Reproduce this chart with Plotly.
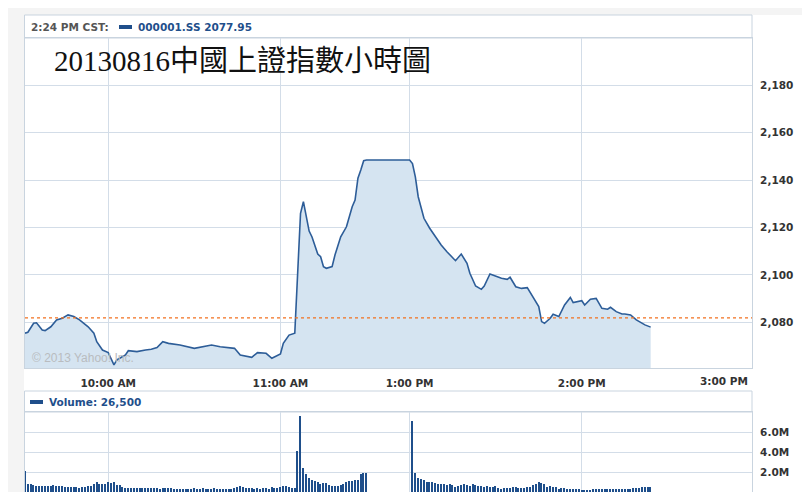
import plotly.graph_objects as go

# ---------------- data ----------------
PRICE_TIMES = [
    "09:31", "09:32", "09:34", "09:35", "09:37", "09:38", "09:40", "09:42", "09:44", "09:46",
    "09:48", "09:50", "09:53", "09:55", "09:56", "09:58", "10:00", "10:01", "10:02", "10:03",
    "10:06", "10:07", "10:10", "10:13", "10:15", "10:17", "10:19", "10:21", "10:25", "10:30",
    "10:32", "10:36", "10:39", "10:44", "10:46", "10:50", "10:52", "10:55", "10:57", "10:59",
    "11:00", "11:01", "11:03", "11:05", "11:06", "11:07", "11:08", "11:09", "11:10", "11:11",
    "11:12", "11:13", "11:14", "11:15", "11:16", "11:18", "11:19", "11:21", "11:23", "11:25",
    "11:26", "11:27", "11:28", "11:29", "11:30", "13:00", "13:01", "13:02", "13:03", "13:05",
    "13:07", "13:09", "13:11", "13:13", "13:15", "13:16", "13:18", "13:20", "13:21", "13:23",
    "13:25", "13:26", "13:28", "13:30", "13:32", "13:34", "13:35", "13:37", "13:39", "13:41",
    "13:43", "13:45", "13:46", "13:47", "13:49", "13:50", "13:52", "13:54", "13:56", "13:57",
    "14:00", "14:01", "14:03", "14:05", "14:07", "14:09", "14:10", "14:12", "14:14", "14:15",
    "14:17", "14:19", "14:22", "14:24",
]
PRICE_VALUES = [
    2075.4, 2075.8, 2079.6, 2079.8, 2076.7, 2076.5, 2078.1, 2081.0, 2081.7, 2083.1,
    2082.4, 2081.0, 2078.1, 2075.4, 2071.8, 2068.3, 2067.2, 2064.8, 2062.0, 2064.1,
    2066.2, 2068.0, 2067.6, 2068.3, 2068.6, 2069.3, 2071.8, 2071.1, 2070.4, 2069.0,
    2069.5, 2070.4, 2069.7, 2069.0, 2066.2, 2065.2, 2067.2, 2066.9, 2064.8, 2066.2,
    2066.6, 2071.1, 2074.6, 2075.4, 2100.7, 2126.0, 2130.9, 2124.6, 2118.5, 2116.0,
    2112.0, 2108.8, 2107.7, 2103.5, 2102.8, 2103.5, 2108.4, 2116.1, 2120.3, 2128.8,
    2131.6, 2140.8, 2144.3, 2148.2, 2148.5, 2148.5, 2147.0, 2141.4, 2133.0, 2123.9,
    2119.7, 2116.1, 2112.6, 2109.8, 2107.0, 2106.0, 2108.8, 2104.9, 2100.7, 2095.3,
    2093.9, 2095.3, 2100.4, 2099.5, 2098.6, 2098.1, 2099.0, 2095.0, 2094.3, 2094.6,
    2090.8, 2086.6, 2080.3, 2079.6, 2081.7, 2083.4, 2082.4, 2087.3, 2090.5, 2088.3,
    2089.1, 2087.3, 2089.7, 2090.1, 2085.9, 2085.5, 2086.3, 2084.5, 2083.5, 2083.5,
    2083.1, 2081.0, 2078.9, 2077.95,
]
PREV_CLOSE = 2081.84

# one-minute volume bars, in millions
VOL_AM_START = "09:31"
VOL_AM = [
    2.07, 0.83, 0.80, 0.70, 0.65, 0.65, 0.60, 0.65, 0.65, 0.60,
    0.68, 0.60, 0.57, 0.60, 0.55, 0.50, 0.55, 0.50, 0.48, 0.45,
    0.50, 0.55, 0.60, 0.62, 0.83, 1.00, 0.80, 0.80, 0.80, 0.97,
    0.90, 0.97, 0.75, 0.68, 0.48, 0.42, 0.45, 0.40, 0.38, 0.38,
    0.36, 0.38, 0.36, 0.38, 0.40, 0.38, 0.36, 0.35, 0.42, 0.40,
    0.36, 0.38, 0.35, 0.33, 0.35, 0.32, 0.35, 0.33, 0.35, 0.36,
    0.34, 0.35, 0.36, 0.33, 0.35, 0.34, 0.36, 0.33, 0.32, 0.34,
    0.33, 0.32, 0.35, 0.45, 0.55, 0.60, 0.50, 0.42, 0.38, 0.36,
    0.35, 0.36, 0.34, 0.36, 0.38, 0.35, 0.50, 0.45, 0.42, 0.55,
    0.60, 0.58, 0.50, 0.42, 0.38, 4.07, 7.60, 2.45, 1.76, 1.41,
    1.24, 1.14, 0.97, 0.83, 0.90, 0.95, 0.72, 0.62, 0.62, 0.62,
    0.70, 0.83, 0.97, 1.14, 1.07, 1.17, 1.24, 1.76, 1.93, 1.93,
]
VOL_PM_START = "13:01"
VOL_PM = [
    7.10, 1.86, 1.41, 1.31, 1.24, 1.03, 0.97, 1.00, 0.90, 0.76,
    0.76, 0.76, 0.69, 0.76, 0.69, 0.55, 0.62, 0.69, 0.76, 0.69,
    0.62, 0.76, 0.69, 0.62, 0.62, 0.55, 0.62, 0.55, 0.55, 0.62,
    0.38, 0.35, 0.38, 0.38, 0.41, 0.55, 0.48, 0.41, 0.41, 0.41,
    0.48, 0.55, 0.69, 0.83, 1.03, 0.90, 0.76, 0.55, 0.62, 0.55,
    0.48, 0.35, 0.38, 0.38, 0.35, 0.30, 0.28, 0.30, 0.28, 0.20,
    0.24, 0.20, 0.24, 0.28, 0.28, 0.30, 0.28, 0.28, 0.30, 0.30,
    0.28, 0.30, 0.28, 0.28, 0.30, 0.35, 0.35, 0.38, 0.41, 0.41,
    0.48, 0.55, 0.55, 0.48,
]

X_TICK_TIMES = ["10:00", "11:00", "13:00", "14:00"]
X_TICK_LABELS = ["10:00 AM", "11:00 AM", "1:00 PM", "2:00 PM"]
X_LAST_LABEL = "3:00 PM"
Y_TICKS = [2080, 2100, 2120, 2140, 2160, 2180]
Y_TICK_LABELS = ["2,080", "2,100", "2,120", "2,140", "2,160", "2,180"]
VOL_TICKS = [2, 4, 6, 8]
VOL_TICK_LABELS = ["2.0M", "4.0M", "6.0M", ""]

HEADER_TIME = "2:24 PM CST:"
HEADER_SYMBOL = "000001.SS 2077.95"
VOLUME_LABEL = "Volume: 26,500"
TITLE = "20130816中國上證指數小時圖"
WATERMARK = "© 2013 Yahoo! Inc."

# ---------------- helpers ----------------
LUNCH_GAP = 15  # compressed lunch break on the axis, minutes


def to_axis(t):
    h, m = map(int, t.split(":"))
    mins = h * 60 + m
    if mins <= 11 * 60 + 30:
        return mins - (9 * 60 + 30)
    return 120 + LUNCH_GAP + mins - 13 * 60


px = [to_axis(t) for t in PRICE_TIMES]
vx = [to_axis(VOL_AM_START) + i for i in range(len(VOL_AM))] + \
     [to_axis(VOL_PM_START) + i for i in range(len(VOL_PM))]
vv = VOL_AM + VOL_PM

# the page body has an 8px margin, so the figure sits at (8, 8)
OFF = 8
W, H = 810 - 2 * OFF, 500 - 2 * OFF
PLOT_L, PLOT_R = 25, 752          # page pixels of the plotting area
ML = PLOT_L - OFF
MR = W - (PLOT_R - OFF)
PW = PLOT_R - PLOT_L


def fx(p):  # page pixel -> paper x
    return (p - PLOT_L) / PW


def fy(p):  # page pixel -> paper y (clamped to the figure)
    return min(1.0, max(0.0, (H - (p - OFF)) / H))


X_RANGE = [1, 254.3]
BLUE = "#1f4f8b"
GRID = "#d3dde8"
BORDER = "#c9d4df"
FONT = "DejaVu Sans"

fig = go.Figure()
fig.add_trace(go.Scatter(
    x=px, y=PRICE_VALUES, mode="lines",
    line=dict(color="#2d5d98", width=1.6),
    fill="tozeroy", fillcolor="#d5e4f1",
    xaxis="x", yaxis="y", hoverinfo="skip"))
fig.add_trace(go.Bar(
    x=vx, y=vv, width=0.5,
    marker=dict(color=BLUE, line=dict(width=0)),
    xaxis="x2", yaxis="y2", hoverinfo="skip"))

tickfont = dict(family=FONT, size=10.5, color="#333333", weight="bold")
xtv = [to_axis(t) for t in X_TICK_TIMES]

fig.update_layout(
    width=W, height=H,
    margin=dict(l=ML, r=MR, t=0, b=0),
    paper_bgcolor="#f4f4f4", plot_bgcolor="white",
    showlegend=False, bargap=0,
    xaxis=dict(domain=[0, 1], anchor="y", range=X_RANGE,
               tickvals=xtv, ticktext=X_TICK_LABELS,
               showgrid=True, gridcolor=GRID, gridwidth=1,
               showline=True, linecolor=BORDER, mirror=True, zeroline=False,
               ticks="outside", ticklen=5, tickcolor="rgba(0,0,0,0)",
               tickfont=tickfont),
    yaxis=dict(domain=[fy(368), fy(38)], anchor="x", range=[2060.7, 2200],
               side="right", tickvals=Y_TICKS, ticktext=Y_TICK_LABELS,
               showgrid=True, gridcolor=GRID, gridwidth=1,
               showline=True, linecolor=BORDER, mirror=True, zeroline=False,
               ticks="outside", ticklen=5, tickcolor="rgba(0,0,0,0)",
               tickfont=tickfont),
    xaxis2=dict(domain=[0, 1], anchor="y2", range=X_RANGE,
                tickvals=xtv, showticklabels=False,
                showgrid=True, gridcolor=GRID, gridwidth=1,
                showline=True, linecolor=BORDER, mirror=True, zeroline=False),
    yaxis2=dict(domain=[fy(492), fy(412)], anchor="x2", range=[0, 8],
                side="right", tickvals=VOL_TICKS, ticktext=VOL_TICK_LABELS,
                showgrid=True, gridcolor=GRID, gridwidth=1,
                showline=True, linecolor=BORDER, mirror=True, zeroline=False,
                ticks="outside", ticklen=5, tickcolor="rgba(0,0,0,0)",
                tickfont=tickfont),
)

shapes = [
    # white panel behind both charts and their labels
    dict(type="rect", xref="paper", yref="paper", layer="below",
         x0=fx(24), x1=fx(802), y0=fy(492), y1=fy(15),
         fillcolor="white", line=dict(width=0)),
    # header row of the price chart
    dict(type="rect", xref="paper", yref="paper", layer="below",
         x0=fx(24.5), x1=fx(752), y0=fy(38), y1=fy(15),
         fillcolor="white", line=dict(color=BORDER, width=1)),
    # header row of the volume chart
    dict(type="rect", xref="paper", yref="paper", layer="below",
         x0=fx(24.5), x1=fx(752), y0=fy(412), y1=fy(391),
         fillcolor="white", line=dict(color=BORDER, width=1)),
    # legend swatches
    dict(type="rect", xref="paper", yref="paper",
         x0=fx(119), x1=fx(132), y0=fy(29), y1=fy(25),
         fillcolor=BLUE, line=dict(width=0)),
    dict(type="rect", xref="paper", yref="paper",
         x0=fx(30), x1=fx(43), y0=fy(404), y1=fy(400),
         fillcolor=BLUE, line=dict(width=0)),
    # previous close
    dict(type="line", xref="paper", yref="y", x0=0, x1=1,
         y0=PREV_CLOSE, y1=PREV_CLOSE,
         line=dict(color="#f2701f", width=1.3, dash="dot")),
]
fig.update_layout(shapes=shapes)

annotations = [
    dict(text=HEADER_TIME, x=fx(29), y=fy(27), xref="paper", yref="paper",
         xanchor="left", yanchor="middle", showarrow=False,
         font=dict(family=FONT, size=10.5, color="#555555", weight="bold")),
    dict(text=HEADER_SYMBOL, x=fx(136), y=fy(27), xref="paper", yref="paper",
         xanchor="left", yanchor="middle", showarrow=False,
         font=dict(family=FONT, size=10.5, color=BLUE, weight="bold")),
    dict(text=VOLUME_LABEL, x=fx(47), y=fy(402), xref="paper", yref="paper",
         xanchor="left", yanchor="middle", showarrow=False,
         font=dict(family=FONT, size=10.5, color=BLUE, weight="bold")),
    dict(text=TITLE, x=fx(52), y=fy(61), xref="paper", yref="paper",
         xanchor="left", yanchor="middle", showarrow=False,
         font=dict(family="Liberation Serif, Noto Sans CJK TC", size=29,
                   color="#111111")),
    dict(text=X_LAST_LABEL, x=fx(750), y=fy(381), xref="paper", yref="paper",
         xanchor="right", yanchor="middle", showarrow=False,
         font=tickfont),
    dict(text=WATERMARK, x=fx(30), y=fy(358), xref="paper", yref="paper",
         xanchor="left", yanchor="middle", showarrow=False,
         font=dict(family="Liberation Sans", size=12, color="#b9bcc0")),
]
fig.update_layout(annotations=annotations)

fig.write_html("out.html")
